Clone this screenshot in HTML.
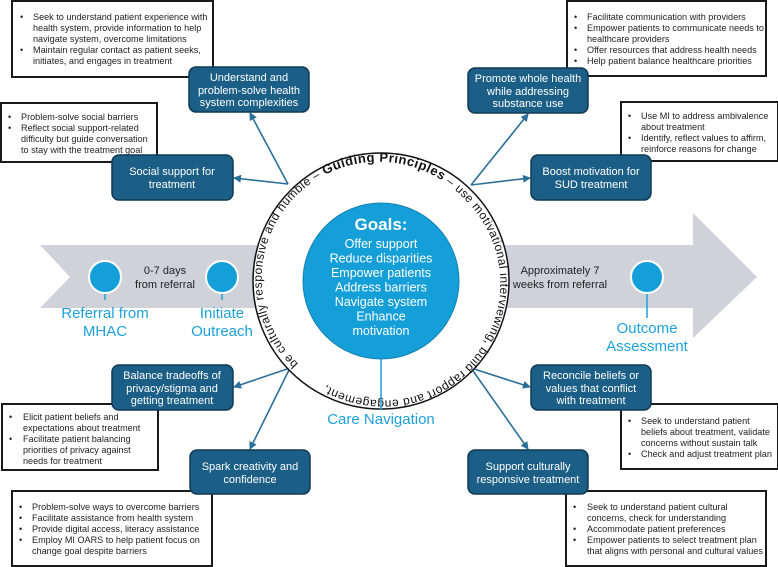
<!DOCTYPE html>
<html><head><meta charset="utf-8"><style>
html,body{margin:0;padding:0;background:#fff;}
svg{display:block;font-family:"Liberation Sans",sans-serif;}
.bt{fill:#fff;font-size:11px;text-anchor:middle;}
.tx{fill:#222;font-size:9.1px;}
.lb{fill:#1da1dc;font-size:15px;text-anchor:middle;}
.tb{fill:#fff;stroke:#1a1a1a;stroke-width:2;}
.bx{fill:#1b5f86;stroke:#0f3a55;stroke-width:1.5;}
.cn{stroke:#2a6f99;stroke-width:1.6;fill:none;}
</style></head><body>
<svg width="778" height="567" viewBox="0 0 778 567" xmlns="http://www.w3.org/2000/svg">
<defs>
<marker id="ah" markerWidth="8" markerHeight="8" refX="7" refY="4" orient="auto" markerUnits="userSpaceOnUse"><path d="M0,0 L8,4 L0,8 z" fill="#2a6f99"/></marker>
<path id="circ" d="M298.3,363.7 A117,117 0 1,1 463.7,198.3 A117,117 0 1,1 298.3,363.7"/>
</defs>
<polygon points="40,245 693,245 693,213 757,277 693,338 693,308 40,308 70,277" fill="#cfd3d9"/>
<line x1="105" y1="277" x2="105" y2="300" stroke="#1da1dc" stroke-width="1.5"/>
<line x1="222" y1="277" x2="222" y2="300" stroke="#1da1dc" stroke-width="1.5"/>
<line x1="647" y1="277" x2="647" y2="318" stroke="#1da1dc" stroke-width="1.5"/>
<circle cx="105" cy="277" r="16" fill="#159fd8" stroke="#fff" stroke-width="2"/>
<circle cx="222" cy="277" r="16" fill="#159fd8" stroke="#fff" stroke-width="2"/>
<circle cx="647" cy="277" r="16" fill="#159fd8" stroke="#fff" stroke-width="2"/>
<text x="165" y="274" font-size="11" text-anchor="middle" fill="#222">0-7 days</text>
<text x="165" y="288" font-size="11" text-anchor="middle" fill="#222">from referral</text>
<text x="560" y="274" font-size="11" text-anchor="middle" fill="#222">Approximately 7</text>
<text x="560" y="288" font-size="11" text-anchor="middle" fill="#222">weeks from referral</text>
<text class="lb" x="105" y="318">Referral from</text>
<text class="lb" x="105" y="336">MHAC</text>
<text class="lb" x="222" y="318">Initiate</text>
<text class="lb" x="222" y="336">Outreach</text>
<text class="lb" x="647" y="333">Outcome</text>
<text class="lb" x="647" y="351">Assessment</text>
<path class="cn" d="M288,184 L234,178" marker-end="url(#ah)"/>
<path class="cn" d="M288,184 L250,113" marker-end="url(#ah)"/>
<path class="cn" d="M471,185 L530,178" marker-end="url(#ah)"/>
<path class="cn" d="M471,185 L528,114" marker-end="url(#ah)"/>
<path class="cn" d="M290,368 L234,387" marker-end="url(#ah)"/>
<path class="cn" d="M290,368 L250,449" marker-end="url(#ah)"/>
<path class="cn" d="M471,368 L530,387" marker-end="url(#ah)"/>
<path class="cn" d="M471,368 L528,449" marker-end="url(#ah)"/>
<circle cx="381" cy="281" r="128" fill="#fff" stroke="#111" stroke-width="1.5"/>
<text font-size="12" fill="#111"><textPath href="#circ" textLength="712" lengthAdjust="spacing">be culturally responsive and humble – <tspan font-weight="bold" font-size="13">Guiding Principles</tspan> – use motivational interviewing, build rapport and engagement,</textPath></text>
<circle cx="381" cy="281" r="78" fill="#159fd8" stroke="#1480b5" stroke-width="1"/>
<line x1="381" y1="359" x2="381" y2="410" stroke="#1da1dc" stroke-width="1.5"/>
<text x="381" y="230" font-size="17" font-weight="bold" fill="#fff" text-anchor="middle">Goals:</text>
<g font-size="12.5" fill="#fff" text-anchor="middle">
<text x="381" y="248">Offer support</text>
<text x="381" y="262.5">Reduce disparities</text>
<text x="381" y="277">Empower patients</text>
<text x="381" y="291.5">Address barriers</text>
<text x="381" y="306">Navigate system</text>
<text x="381" y="320.5">Enhance</text>
<text x="381" y="335">motivation</text>
</g>
<text class="lb" x="381" y="424">Care Navigation</text>
<rect class="tb" x="12" y="1" width="201" height="76"/>
<g class="tx"><text x="20" y="20">•</text><text x="33" y="20">Seek to understand patient experience with</text><text x="33" y="31">health system, provide information to help</text><text x="33" y="42">navigate system, overcome limitations</text><text x="20" y="53">•</text><text x="33" y="53">Maintain regular contact as patient seeks,</text><text x="33" y="64">initiates, and engages in treatment</text></g>
<rect class="tb" x="1" y="103" width="156" height="59"/>
<g class="tx"><text x="8" y="120">•</text><text x="21" y="120">Problem-solve social barriers</text><text x="8" y="131">•</text><text x="21" y="131">Reflect social support-related</text><text x="21" y="142">difficulty but guide conversation</text><text x="21" y="153">to stay with the treatment goal</text></g>
<rect class="tb" x="567" y="1" width="199" height="75"/>
<g class="tx"><text x="574" y="20">•</text><text x="587" y="20">Facilitate communication with providers</text><text x="574" y="31">•</text><text x="587" y="31">Empower patients to communicate needs to</text><text x="587" y="42">healthcare providers</text><text x="574" y="53">•</text><text x="587" y="53">Offer resources that address health needs</text><text x="574" y="64">•</text><text x="587" y="64">Help patient balance healthcare priorities</text></g>
<rect class="tb" x="621" y="102" width="157" height="59"/>
<g class="tx"><text x="628" y="119">•</text><text x="641" y="119">Use MI to address ambivalence</text><text x="641" y="130">about treatment</text><text x="628" y="141">•</text><text x="641" y="141">Identify, reflect values to affirm,</text><text x="641" y="152">reinforce reasons for change</text></g>
<rect class="tb" x="2" y="404" width="156" height="66"/>
<g class="tx"><text x="9" y="420">•</text><text x="23" y="420">Elicit patient beliefs and</text><text x="23" y="431">expectations about treatment</text><text x="9" y="442">•</text><text x="23" y="442">Facilitate patient balancing</text><text x="23" y="453">priorities of privacy against</text><text x="23" y="464">needs for treatment</text></g>
<rect class="tb" x="12" y="491" width="200" height="75"/>
<g class="tx"><text x="19" y="510">•</text><text x="32" y="510">Problem-solve ways to overcome barriers</text><text x="19" y="521">•</text><text x="32" y="521">Facilitate assistance from health system</text><text x="19" y="532">•</text><text x="32" y="532">Provide digital access, literacy assistance</text><text x="19" y="543">•</text><text x="32" y="543">Employ MI OARS to help patient  focus on</text><text x="32" y="554">change goal despite barriers</text></g>
<rect class="tb" x="621" y="404" width="157" height="65"/>
<g class="tx"><text x="628" y="424">•</text><text x="641" y="424">Seek to understand patient</text><text x="641" y="435">beliefs about treatment, validate</text><text x="641" y="446">concerns without  sustain talk</text><text x="628" y="457">•</text><text x="641" y="457">Check and adjust treatment plan</text></g>
<rect class="tb" x="566" y="491" width="200" height="75"/>
<g class="tx"><text x="573" y="510">•</text><text x="587" y="510">Seek to understand patient cultural</text><text x="587" y="521">concerns, check for understanding</text><text x="573" y="532">•</text><text x="587" y="532">Accommodate patient preferences</text><text x="573" y="543">•</text><text x="587" y="543">Empower patients to select treatment plan</text><text x="587" y="554">that aligns with personal and cultural values</text></g>
<rect class="bx" x="189" y="67" width="120" height="45" rx="7"/>
<text class="bt" x="249" y="81">Understand and</text><text class="bt" x="249" y="94">problem-solve  health</text><text class="bt" x="249" y="106">system complexities</text>
<rect class="bx" x="112" y="155" width="121" height="45" rx="7"/>
<text class="bt" x="172" y="175">Social support for</text><text class="bt" x="172" y="188">treatment</text>
<rect class="bx" x="468" y="68" width="120" height="45" rx="7"/>
<text class="bt" x="528" y="82">Promote whole health</text><text class="bt" x="528" y="95">while addressing</text><text class="bt" x="528" y="107">substance use</text>
<rect class="bx" x="531" y="155" width="120" height="45" rx="7"/>
<text class="bt" x="591" y="175">Boost motivation for</text><text class="bt" x="591" y="188">SUD treatment</text>
<rect class="bx" x="112" y="365" width="121" height="45" rx="7"/>
<text class="bt" x="172" y="379">Balance tradeoffs of</text><text class="bt" x="172" y="392">privacy/stigma and</text><text class="bt" x="172" y="404">getting treatment</text>
<rect class="bx" x="190" y="450" width="120" height="44" rx="7"/>
<text class="bt" x="250" y="470">Spark creativity and</text><text class="bt" x="250" y="483">confidence</text>
<rect class="bx" x="531" y="365" width="120" height="45" rx="7"/>
<text class="bt" x="591" y="379">Reconcile beliefs or</text><text class="bt" x="591" y="392">values that conflict</text><text class="bt" x="591" y="404">with treatment</text>
<rect class="bx" x="468" y="450" width="120" height="44" rx="7"/>
<text class="bt" x="528" y="470">Support culturally</text><text class="bt" x="528" y="483">responsive treatment</text>
</svg>
</body></html>
